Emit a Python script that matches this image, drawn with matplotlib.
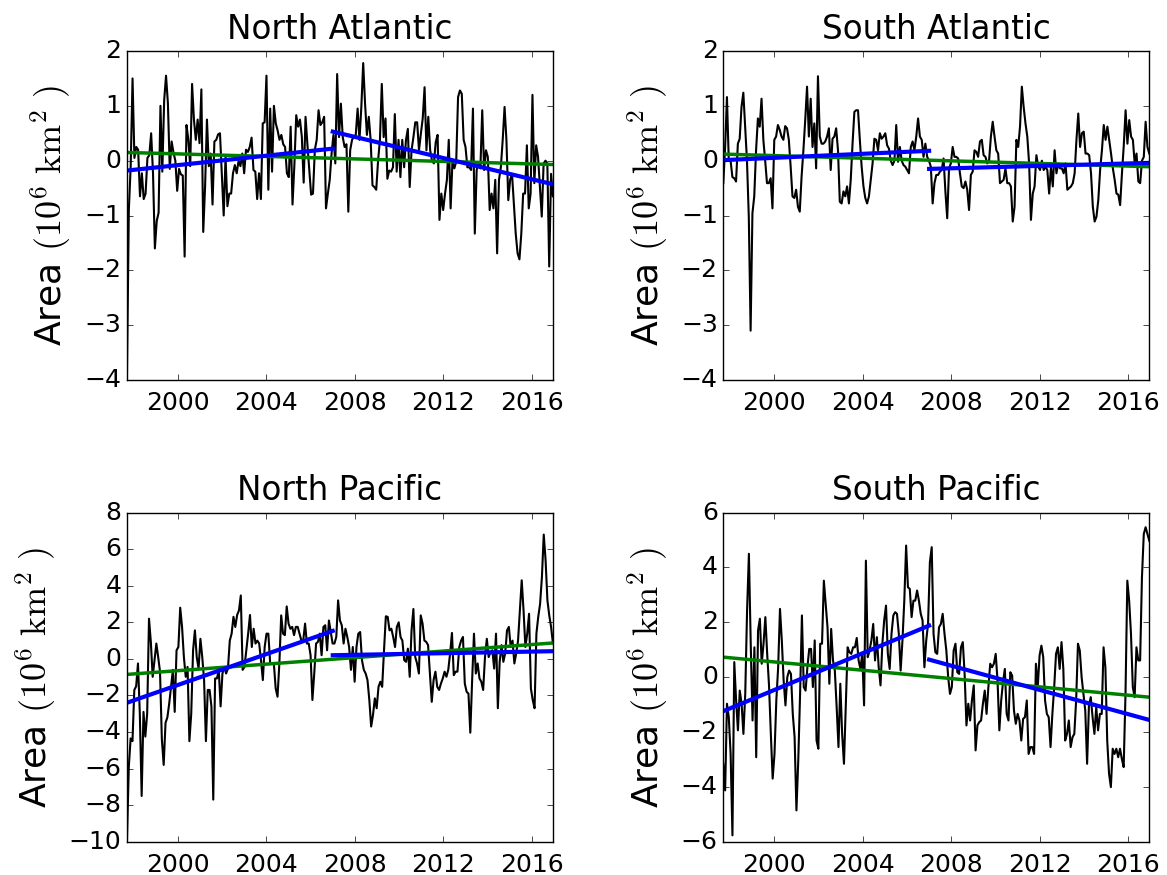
import numpy as np
import matplotlib
matplotlib.use("Agg")
import matplotlib.pyplot as plt

plt.style.use("classic")
plt.rcParams["figure.facecolor"] = "white"
plt.rcParams["savefig.facecolor"] = "white"
plt.rcParams["mathtext.fontset"] = "cm"

# monthly series span (decimal years) and break year of the two-piece trend
t_start, t_end = 1997.7, 2016.95
t_split = 2007.0

# area anomalies, 10^6 km^2
na_area = [
    -3.9, -0.9, -0.1, 1.5, 0.05, 0.25, 0.2, -0.65, -0.23, -0.7,
    -0.6, 0.05, 0.1, 0.5, -0.23, -1.6, -1.1, -0.95, 1.0, -0.2,
    1.1, 1.55, 1.05, -0.15, 0.35, 0.15, 0.0, -0.55, -0.15, -0.25,
    -0.27, -1.75, 0.65, 0.38, -0.1, 1.4, 0.75, 0.38, 0.75, 0.32,
    1.3, -1.3, -0.47, 0.75, -0.1, 0.13, -0.8, 0.35, 0.38, 0.48,
    0.5, -0.23, -1.0, 0.07, -0.83, -0.6, -0.6, -0.23, -0.08, -0.23,
    0.0, -0.1, 0.13, -0.23, 0.2, 0.16, 0.25, 0.42, -0.17, -0.2,
    -0.7, -0.23, -0.7, 0.68, 0.7, 1.55, -0.53, 0.95, -0.2, 1.0,
    0.68, 0.55, 0.38, 0.47, 0.3, 0.25, -0.23, -0.3, 0.62, -0.8,
    -0.08, 0.83, 0.62, 0.75, 0.44, -0.4, 0.8, 0.3, -0.17, -0.62,
    -0.6, 0.2, 0.38, 0.92, 0.65, 0.7, 0.8, -0.87, -0.6, -0.35,
    0.13, 0.47, -0.05,
    1.58, 0.43, 1.04, 0.43, 0.25, 0.3, -0.93, 0.19, 0.38, 0.44,
    0.47, 0.95, 0.38, 0.98, 1.78, 1.04, 0.47, 0.8, 0.38, -0.45,
    -0.48, -0.53, 0.0, 0.38, 1.4, 0.43, 0.77, -0.33, -0.18, -0.2,
    -0.12, 0.85, -0.2, 0.38, -0.3, 0.38, -0.12, 0.38, 0.58, -0.48,
    0.19, 0.43, 0.7, 0.7, 0.19, 0.49, 0.77, 1.34, 0.19, 0.8,
    0.19, 0.0, -0.05, 0.34, 0.47, -1.08, -0.6, -0.9, -0.6, -0.35,
    0.38, -0.87, 0.0, -0.14, -0.02, 1.16, 1.28, 1.22, 0.38, 0.25,
    -0.12, -0.12, -0.17, 0.95, -1.33, -0.17, -0.05, -0.14, 0.92, -0.17,
    0.19, 0.07, -0.9, -0.6, -0.87, -0.35, -1.69, -0.35, -0.12, 0.38,
    0.98, 0.38, -0.72, -0.35, -0.24, -0.78, -1.33, -1.69, -1.8, -1.33,
    -0.6, -0.6, 0.28, -0.87, -0.6, 1.2, -0.41, 0.28, 0.07, -0.48,
    -1.02, -0.05, 0.0, -0.05, -1.93, -0.24, -0.65,
]

sa_area = [
    -0.41, 0.25, 1.16, 0.0, 0.0, -0.3, -0.32, -0.38, 0.31, 0.4,
    0.98, 1.24, 0.62, 0.0, -1.02, -3.1, -0.96, -0.65, 0.19, 0.77,
    0.62, 1.13, 0.38, 0.0, -0.41, -0.41, -0.32, -0.87, 0.38, 0.44,
    0.65, 0.56, 0.44, 0.38, 0.63, 0.59, 0.38, -0.11, -0.65, -0.68,
    -0.53, -0.84, -0.93, -0.29, 0.19, 0.74, 1.35, 0.44, 1.13, 0.25,
    0.68, -0.14, 1.54, 0.44, 0.31, 0.31, 0.35, 0.44, 0.59, -0.17,
    0.4, 0.44, 0.59, 0.19, -0.75, -0.78, -0.56, -0.65, -0.47, -0.78,
    -0.35, 0.31, 0.89, 0.92, 0.92, 0.38, -0.11, -0.47, -0.68, -0.78,
    -0.65, -0.35, -0.05, 0.4, 0.38, 0.19, 0.5, 0.4, 0.44, 0.5,
    0.28, 0.22, 0.0, -0.08, 0.0, 0.65, -0.02, 0.25, 0.0, -0.08,
    -0.11, -0.17, -0.23, 0.25, 0.35, 0.19, 0.44, 0.77, 0.44, 0.38,
    0.07, 0.31, 0.07, 0.0, -0.11, -0.78,
    -0.41, -0.26, -0.26, -0.2, -0.17, 0.04, -0.56, -1.05, -0.14, -0.05,
    0.25, 0.07, 0.07, 0.04, -0.23, -0.47, -0.5, -0.38, -0.53, -0.9,
    -0.26, -0.2, 0.19, 0.16, 0.07, 0.35, 0.38, 0.1, 0.07, -0.05,
    0.0, 0.44, 0.71, 0.44, 0.19, 0.13, -0.41, -0.38, -0.35, -0.14,
    -0.41, -0.41, -0.47, -1.11, -0.84, 0.38, 0.25, 0.62, 1.35, 0.98,
    0.68, 0.44, -0.05, -1.08, -0.6, -0.47, 0.1, -0.11, -0.17, 0.0,
    -0.17, -0.11, -0.17, -0.6, -0.11, -0.47, 0.19, -0.23, -0.05, -0.14,
    -0.14, -0.23, -0.05, -0.53, -0.5, -0.47, -0.41, -0.23, 0.38, 0.86,
    0.25, 0.5, 0.53, 0.13, 0.13, 0.1, -0.23, -0.84, -1.11, -1.02,
    -0.72, -0.17, 0.19, 0.65, 0.38, 0.62, 0.38, 0.13, -0.14, -0.35,
    -0.6, -0.62, -0.81, -0.23, 0.28, 0.92, 0.31, 0.74, 0.44, 0.38,
    -0.05, 0.13, -0.38, -0.41, 0.0, 0.07, 0.71, 0.25, 0.13,
]

np_area = [
    -9.9, -5.9, -4.35, -4.5, -1.7, -1.5, -0.25, -3.0, -7.5, -2.9,
    -4.25, -3.0, 2.2, 0.93, -0.98, -0.07, 0.84, 0.1, -0.7, -4.4,
    -5.8, -3.5, -3.2, -2.45, -1.5, -0.6, -2.9, 0.47, 0.65, 2.8,
    1.75, 0.1, -0.98, -0.44, -4.5, -3.0, 0.47, 1.56, 0.1, -0.53,
    1.1, 0.1, -1.16, -4.5, -1.7, -1.7, -2.6, -7.7, -1.07, -1.07,
    -0.6, -2.6, -0.8, -0.44, -0.8, -0.53, 1.0, 1.38, 2.3, 1.75,
    2.4, 2.65, 3.47, -0.6, -0.44, 0.47, 1.38, 2.4, 0.65, 1.65,
    0.84, 1.0, 0.84, -0.07, -1.16, 0.65, 1.38, 1.38, -0.25, -0.25,
    -0.25, -1.62, -2.07, -0.25, 2.38, 1.38, 1.3, 2.87, 1.93, 1.65,
    1.75, 1.3, 1.75, 1.75, 1.38, 1.0, 1.0, 1.93, 0.84, 0.84,
    0.2, -2.25, -0.8, 0.84, 0.93, 1.38, 0.2, 1.75, 1.84, 0.47,
    2.1, 1.47, 0.84, 0.84, 1.2, 3.2,
    2.1, 1.84, 0.84, 1.65, 1.2, 0.65, -0.6, 0.65, -1.25, 0.65,
    1.38, 1.47, -0.07, -0.6, -0.8, -1.16, -2.25, -3.7, -3.07, -2.16,
    -2.7, -1.53, -1.25, -1.53, 0.47, 2.33, 2.3, 1.56, 1.65, 1.2,
    0.65, 1.75, 2.0, 1.2, 1.0, -0.07, -0.16, 0.56, -0.98, 1.56,
    2.73, 0.1, -0.25, -0.8, 2.38, 1.93, 1.0, 0.93, 0.75, -0.8,
    -2.35, -1.16, -0.7, -1.53, -1.7, -1.35, -1.07, -0.7, -0.98, -0.6,
    0.3, 1.42, -0.89, -0.7, -0.7, 0.65, 1.0, 1.2, -1.35, -1.8,
    -1.9, -4.04, -1.16, 1.38, -0.8, -0.25, -1.07, -1.25, -1.7, 0.1,
    1.1, 0.1, 0.38, 0.47, -0.53, 1.38, -2.7, -0.16, 0.75, -0.16,
    0.3, 1.56, 1.75, 0.65, 1.0, -0.25, 0.3, 1.0, 2.65, 4.3,
    2.65, 0.65, 1.38, 2.47, -1.62, -2.25, -2.7, 1.38, 2.3, 3.0,
    4.47, 6.8, 5.4, 3.2, 2.38, 1.75, 0.84,
]

sp_area = [
    -3.16, -4.13, -0.97, -1.46, -2.8, -5.77, 0.55, -0.85, -1.94, -0.49,
    -0.97, -2.07, -0.61, 2.43, 4.5, 1.22, -1.58, 1.09, -2.92, 1.7,
    2.13, 0.49, 1.22, 2.19, 0.85, -0.3, -2.07, -3.7, -2.8, -0.85,
    0.36, 2.49, 1.34, -0.12, -1.03, 0.0, 0.24, 0.12, -1.34, -2.19,
    -4.86, -3.04, -0.61, 2.25, -0.36, -0.49, 0.36, 1.03, 1.03, -0.36,
    1.34, -2.31, -2.61, 1.22, 1.22, 3.52, 2.67, 1.82, -0.24, 1.76,
    0.61, 0.24, -1.09, -2.55, -0.24, -2.07, -3.16, -1.09, 1.09, 0.91,
    0.85, 1.09, 1.09, 1.43, 0.61, 0.3, 0.85, -1.03, 4.25, 0.73,
    0.97, 1.34, 1.94, 0.61, 1.46, 0.36, -0.3, 1.22, 2.07, 2.61,
    0.85, 0.3, 1.58, 2.25, 2.37, 2.31, 1.58, 0.24, 1.34, 2.79,
    4.8, 3.28, 3.22, 2.19, 2.79, 2.79, 3.16, 2.79, 2.31, 2.07,
    0.36, 1.34, 1.94, 4.19,
    4.74, 1.58, 0.91, 0.85, 1.82, 1.94, 2.31, 1.58, 0.97, 0.0,
    -0.61, -0.36, 0.97, 1.22, 0.18, 0.12, 1.09, 1.28, 0.12, -1.76,
    -0.97, -1.58, -0.85, -0.3, -2.67, -1.76, -1.64, -1.58, -0.97, -0.49,
    -1.34, -0.36, 0.49, 0.36, 0.49, 0.85, -0.12, -1.94, -0.85, -0.18,
    0.3, -1.34, -1.58, 0.18, 0.06, -1.22, -1.7, -1.34, -1.58, -2.31,
    -1.52, -1.46, -0.85, -2.8, -2.55, -2.55, -2.8, 0.49, -0.36, 0.79,
    1.15, 0.73, -0.85, -1.34, -1.46, -2.55, -1.34, -0.36, 0.85, 1.09,
    0.3, 1.28, 0.3, -2.31, -2.07, -1.58, -2.55, -2.19, -2.07, -0.85,
    1.22, 0.97, 0.0, -0.61, -1.22, -3.16, -1.03, -0.73, -1.46, -2.07,
    -1.09, -1.94, -1.34, -1.34, 1.09, 0.36, -2.31, -3.52, -4.01, -2.61,
    -2.8, -2.61, -2.92, -2.61, -2.98, -3.28, -0.61, 3.52, 2.79, 1.58,
    -0.36, -0.73, 1.09, 0.61, 0.61, 3.64, 5.22, 5.47, 5.22, 4.98,
]

# trend lines, [value at start, value at end]
na_trend = [0.15, -0.07]
na_trend_early = [-0.18, 0.22]
na_trend_late = [0.53, -0.43]

sa_trend = [0.12, -0.11]
sa_trend_early = [0.01, 0.18]
sa_trend_late = [-0.15, -0.04]

np_trend = [-0.85, 0.87]
np_trend_early = [-2.4, 1.53]
np_trend_late = [0.2, 0.42]

sp_trend = [0.73, -0.73]
sp_trend_early = [-1.24, 1.88]
sp_trend_late = [0.64, -1.56]

titles = ["North Atlantic", "South Atlantic", "North Pacific", "South Pacific"]
series = [na_area, sa_area, np_area, sp_area]
trends = [
    (na_trend, na_trend_early, na_trend_late),
    (sa_trend, sa_trend_early, sa_trend_late),
    (np_trend, np_trend_early, np_trend_late),
    (sp_trend, sp_trend_early, sp_trend_late),
]
ylims = [(-4, 2), (-4, 2), (-10, 8), (-6, 6)]
ysteps = [1, 1, 2, 2]

fig = plt.figure(figsize=(11.67, 8.75), dpi=100)
positions = [
    [0.1088, 0.5657, 0.3650, 0.3760],
    [0.6198, 0.5657, 0.3650, 0.3760],
    [0.1088, 0.0381, 0.3650, 0.3760],
    [0.6198, 0.0381, 0.3650, 0.3760],
]

for pos, title, vals, (full, early, late), ylim, ystep in zip(
        positions, titles, series, trends, ylims, ysteps):
    ax = fig.add_axes(pos)
    t = np.linspace(t_start, t_end, len(vals))
    ax.plot(t, vals, color="k", lw=1.5)
    ax.plot([t_start, t_end], full, color="g", lw=2.5)
    ax.plot([t_start, t_split], early, color="b", lw=3)
    ax.plot([t_split, t_end], late, color="b", lw=3)

    ax.set_xlim(t_start, t_end)
    ax.set_ylim(*ylim)
    ax.set_xticks([2000, 2004, 2008, 2012, 2016])
    ax.set_yticks(np.arange(ylim[0], ylim[1] + ystep, ystep))
    ax.ticklabel_format(useOffset=False)
    ax.tick_params(labelsize=18)
    ax.tick_params(axis="x", pad=8)
    ax.set_title(title, fontsize=23.5, pad=9)
    ax.set_ylabel(r"Area $(10^6\ \mathrm{km}^2\ )$", fontsize=26, labelpad=8)

fig.savefig("out.png", dpi=100)
